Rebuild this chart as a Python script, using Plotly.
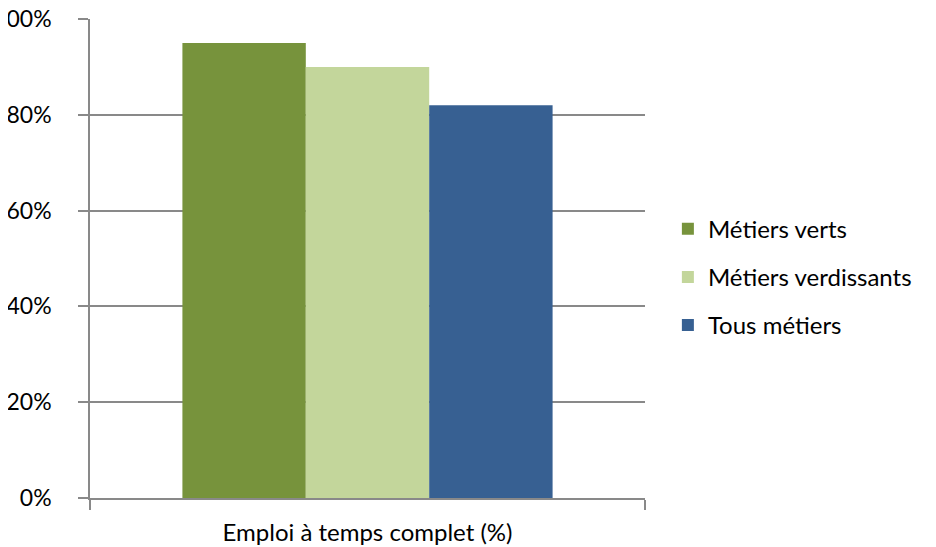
import plotly.graph_objects as go

categories = ["Emploi à temps complet (%)"]
series_names = ["Métiers verts", "Métiers verdissants", "Tous métiers"]
series_values = [[95], [90], [82]]
colors = ["#77933C", "#C3D69B", "#376092"]
tick_vals = [0, 20, 40, 60, 80, 100]
tick_text = ["0%", "20%", "40%", "60%", "80%", "100%"]

fig = go.Figure()
for i, (name, vals, col) in enumerate(zip(series_names, series_values, colors)):
    fig.add_trace(go.Bar(x=categories, y=vals, name=name, marker_color=col,
                         marker_line_width=0, legendgroup=str(i)))

font_family = "Lato, Liberation Sans, sans-serif"
fig.update_layout(
    width=936, height=547,
    margin=dict(l=82, r=299, t=11, b=57, autoexpand=False),
    paper_bgcolor="white", plot_bgcolor="white",
    barmode="group", bargap=0.333, bargroupgap=0,
    font=dict(family=font_family, size=23, color="black"),
    showlegend=True,
    legend=dict(xref="container", yref="container", x=0.705, y=0.508,
                xanchor="left", yanchor="middle", traceorder="grouped",
                tracegroupgap=14, font=dict(size=24), bgcolor="rgba(0,0,0,0)"),
)
fig.update_yaxes(range=[0, 100], tickvals=tick_vals, ticktext=tick_text,
                 showgrid=True, gridcolor="#898989", gridwidth=1.5,
                 showline=True, linecolor="#898989", linewidth=1.5,
                 ticks="outside", ticklen=10, tickcolor="#898989", tickwidth=1.5,
                 ticklabelstandoff=22, ticklabeloverflow="allow",
                 zeroline=False, fixedrange=True, automargin=False)
fig.update_xaxes(type="category", showline=True, linecolor="#898989", linewidth=1.5,
                 ticks="outside", tickson="boundaries", ticklen=10,
                 tickcolor="#898989", tickwidth=1.5, showgrid=False,
                 tickfont=dict(size=24),
                 ticklabelstandoff=12, automargin=False)
fig.write_html("out.html")
